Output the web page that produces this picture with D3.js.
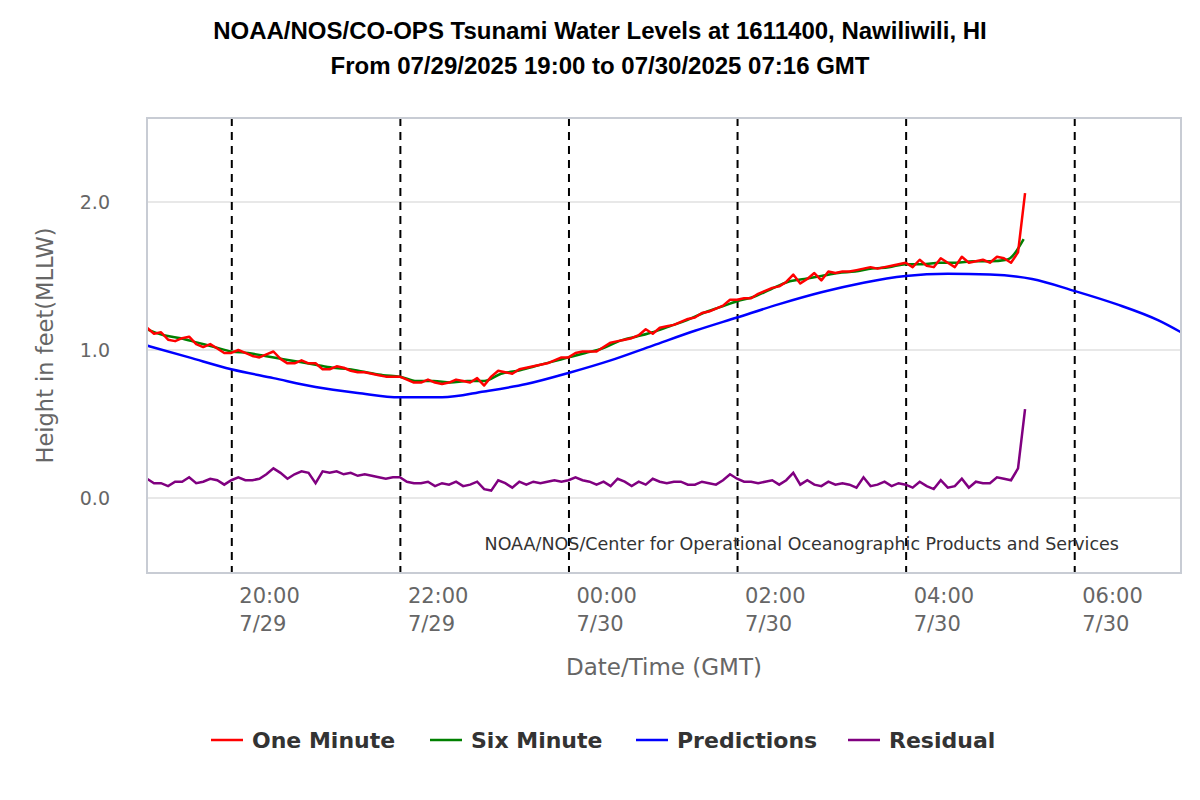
<!DOCTYPE html>
<html>
<head>
<meta charset="utf-8">
<script src="https://cdn.jsdelivr.net/npm/d3@7"></script>
<style>
  body { margin: 0; background: #fff; }
  svg { display: block; }
</style>
</head>
<body>
<script>
// ---- data ----
var titleLines = [
    "NOAA/NOS/CO-OPS Tsunami Water Levels at 1611400, Nawiliwili, HI",
    "From 07/29/2025 19:00 to 07/30/2025 07:16 GMT"
];
var startTime = Date.UTC(2025, 6, 29, 19, 0);
var endTime = Date.UTC(2025, 6, 30, 7, 16);

// one minute water level, sampled every 5 minutes from 19:00
var oneMinuteStep = 5;
var oneMinute = [
    1.15, 1.11, 1.12, 1.07, 1.06, 1.08, 1.09, 1.04, 1.02, 1.04,
    1.01, 0.98, 0.98, 1.00, 0.98, 0.96, 0.95, 0.97, 0.99, 0.94,
    0.91, 0.91, 0.93, 0.91, 0.91, 0.87, 0.87, 0.89, 0.88, 0.86,
    0.85, 0.85, 0.84, 0.83, 0.82, 0.82, 0.82, 0.80, 0.78, 0.78,
    0.80, 0.78, 0.77, 0.78, 0.80, 0.79, 0.78, 0.81, 0.76, 0.82,
    0.86, 0.85, 0.84, 0.87, 0.88, 0.89, 0.90, 0.91, 0.93, 0.95,
    0.95, 0.98, 0.99, 0.99, 0.99, 1.02, 1.05, 1.06, 1.07, 1.08,
    1.10, 1.14, 1.11, 1.15, 1.16, 1.17, 1.19, 1.21, 1.22, 1.25,
    1.26, 1.28, 1.30, 1.34, 1.34, 1.35, 1.35, 1.38, 1.40, 1.42,
    1.43, 1.46, 1.51, 1.45, 1.48, 1.52, 1.47, 1.53, 1.52, 1.53,
    1.53, 1.54, 1.55, 1.56, 1.55, 1.56, 1.57, 1.58, 1.59, 1.56,
    1.61, 1.57, 1.56, 1.62, 1.59, 1.56, 1.63, 1.59, 1.60, 1.61,
    1.59, 1.63, 1.62, 1.59, 1.66, 2.06
];

// six minute water level, sampled every 12 minutes from 19:00
var sixMinuteStep = 12;
var sixMinute = [
    1.14, 1.10, 1.08, 1.05, 1.02, 0.99, 0.98, 0.96, 0.94, 0.92,
    0.90, 0.88, 0.87, 0.85, 0.83, 0.82, 0.79, 0.79, 0.78, 0.79,
    0.79, 0.84, 0.86, 0.89, 0.92, 0.95, 0.98, 1.01, 1.06, 1.09,
    1.12, 1.16, 1.20, 1.25, 1.29, 1.33, 1.36, 1.41, 1.46, 1.48,
    1.50, 1.52, 1.53, 1.55, 1.56, 1.58, 1.58, 1.59, 1.59, 1.60,
    1.60, 1.61, 1.75
];

// predictions, minutes after 19:00
var predictionMinutes = [0, 30, 60, 90, 120, 150, 180, 210, 240, 270, 300, 330, 360,
    390, 420, 450, 480, 510, 540, 570, 600, 630, 660, 690, 720, 736];
var predictions = [1.03, 0.95, 0.87, 0.81, 0.75, 0.71, 0.68, 0.68, 0.72, 0.77, 0.845, 0.93, 1.03,
    1.13, 1.22, 1.31, 1.39, 1.455, 1.50, 1.515, 1.51, 1.48, 1.40, 1.31, 1.20, 1.12];

// residual, sampled every 5 minutes from 19:00
var residualStep = 5;
var residual = [
    0.13, 0.10, 0.10, 0.08, 0.11, 0.11, 0.14, 0.10, 0.11, 0.13,
    0.12, 0.09, 0.12, 0.14, 0.12, 0.12, 0.13, 0.16, 0.20, 0.17,
    0.13, 0.16, 0.18, 0.17, 0.10, 0.18, 0.17, 0.18, 0.16, 0.17,
    0.15, 0.16, 0.15, 0.14, 0.13, 0.14, 0.14, 0.11, 0.10, 0.10,
    0.11, 0.08, 0.10, 0.09, 0.11, 0.08, 0.09, 0.11, 0.06, 0.05,
    0.12, 0.10, 0.07, 0.11, 0.09, 0.11, 0.10, 0.11, 0.12, 0.11,
    0.12, 0.14, 0.12, 0.11, 0.09, 0.11, 0.08, 0.13, 0.11, 0.08,
    0.11, 0.09, 0.13, 0.11, 0.10, 0.11, 0.11, 0.09, 0.09, 0.11,
    0.10, 0.09, 0.12, 0.16, 0.13, 0.11, 0.11, 0.10, 0.11, 0.12,
    0.09, 0.12, 0.17, 0.09, 0.12, 0.09, 0.08, 0.11, 0.09, 0.10,
    0.09, 0.07, 0.14, 0.08, 0.09, 0.11, 0.08, 0.10, 0.09, 0.07,
    0.11, 0.08, 0.06, 0.12, 0.07, 0.08, 0.13, 0.07, 0.11, 0.10,
    0.10, 0.14, 0.13, 0.12, 0.20, 0.60
];

var yTicks = [0, 1, 2];
var seriesNames = ["One Minute", "Six Minute", "Predictions", "Residual"];
var seriesColors = ["#ff0000", "#008000", "#0000ff", "#800080"];
var creditText = "NOAA/NOS/Center for Operational Oceanographic Products and Services";

// ---- layout ----
var width = 1200, height = 800;
var plot = { left: 147, top: 118, right: 1181, bottom: 573 };

var svg = d3.select("body").append("svg")
    .attr("width", width)
    .attr("height", height)
    .style("font-family", "'DejaVu Sans', sans-serif");

var x = d3.scaleUtc()
    .domain([new Date(startTime), new Date(endTime)])
    .range([plot.left, plot.right]);

var y = d3.scaleLinear()
    .domain([-0.507, 2.568])
    .range([plot.bottom, plot.top]);

function minutes(m) { return new Date(startTime + m * 60000); }

function stepped(values, step) {
    return values.map(function (v, i) { return { t: minutes(i * step), v: v }; });
}

// title
svg.selectAll("text.title")
    .data(titleLines)
    .enter().append("text")
    .attr("class", "title")
    .attr("x", width / 2)
    .attr("y", function (d, i) { return 39 + i * 35; })
    .attr("text-anchor", "middle")
    .style("font-family", "'Liberation Sans', Arial, sans-serif")
    .style("font-weight", "bold")
    .style("font-size", "24px")
    .attr("fill", "#000")
    .text(function (d) { return d; });

// grid lines
svg.append("g")
    .selectAll("line")
    .data(yTicks)
    .enter().append("line")
    .attr("x1", plot.left)
    .attr("x2", plot.right)
    .attr("y1", function (d) { return y(d); })
    .attr("y2", function (d) { return y(d); })
    .attr("stroke", "#e0e0e0")
    .attr("stroke-width", 1.5);

// y axis labels
var yAxis = d3.axisLeft(y)
    .tickValues(yTicks)
    .tickSize(0)
    .tickPadding(37)
    .tickFormat(d3.format(".1f"));

var yG = svg.append("g")
    .attr("transform", "translate(" + plot.left + ",0)")
    .call(yAxis);
yG.select(".domain").remove();
yG.selectAll("text")
    .attr("fill", "#666")
    .style("font-size", "19px")
    .style("font-family", "'DejaVu Sans', sans-serif");

svg.append("text")
    .attr("transform", "translate(53," + ((plot.top + plot.bottom) / 2) + ") rotate(-90)")
    .attr("text-anchor", "middle")
    .attr("fill", "#666")
    .style("font-size", "22.5px")
    .text("Height in feet(MLLW)");

// x axis: dashed tick lines across plot + two line labels
var xTicks = d3.utcHour.every(2).range(new Date(startTime + 1), new Date(endTime));
var xAxis = d3.axisBottom(x)
    .tickValues(xTicks)
    .tickSize(plot.bottom - plot.top)
    .tickFormat("");

var xG = svg.append("g")
    .attr("transform", "translate(0," + plot.top + ")")
    .call(xAxis);
xG.select(".domain").remove();
xG.selectAll(".tick line")
    .attr("stroke", "#000")
    .attr("stroke-width", 2)
    .attr("stroke-dasharray", "8,6");

var fmtTime = d3.utcFormat("%H:%M");
var labels = svg.append("g").selectAll("text")
    .data(xTicks)
    .enter().append("text")
    .attr("x", function (d) { return x(d) + 8; })
    .attr("y", 603)
    .attr("fill", "#666")
    .style("font-size", "21px");
labels.append("tspan")
    .text(function (d) { return fmtTime(d); });
labels.append("tspan")
    .attr("x", function (d) { return x(d) + 8; })
    .attr("dy", 28)
    .text(function (d) { return (d.getUTCMonth() + 1) + "/" + d.getUTCDate(); });

svg.append("text")
    .attr("x", (plot.left + plot.right) / 2)
    .attr("y", 675)
    .attr("text-anchor", "middle")
    .attr("fill", "#666")
    .style("font-size", "23px")
    .text("Date/Time (GMT)");

// series
var line = d3.line()
    .x(function (d) { return x(d.t); })
    .y(function (d) { return y(d.v); });

var smooth = d3.line()
    .curve(d3.curveMonotoneX)
    .x(function (d) { return x(d.t); })
    .y(function (d) { return y(d.v); });

var predData = predictionMinutes.map(function (m, i) { return { t: minutes(m), v: predictions[i] }; });

var lines = svg.append("g");
lines.append("path")
    .datum(stepped(residual, residualStep))
    .attr("d", line)
    .attr("fill", "none")
    .attr("stroke", seriesColors[3])
    .attr("stroke-width", 2.5);
lines.append("path")
    .datum(predData)
    .attr("d", smooth)
    .attr("fill", "none")
    .attr("stroke", seriesColors[2])
    .attr("stroke-width", 2.5);
lines.append("path")
    .datum(stepped(sixMinute, sixMinuteStep))
    .attr("d", smooth)
    .attr("fill", "none")
    .attr("stroke", seriesColors[1])
    .attr("stroke-width", 2.5);
lines.append("path")
    .datum(stepped(oneMinute, oneMinuteStep))
    .attr("d", line)
    .attr("fill", "none")
    .attr("stroke", seriesColors[0])
    .attr("stroke-width", 2.5)
    .attr("stroke-linejoin", "round");

// plot frame
svg.append("rect")
    .attr("x", plot.left)
    .attr("y", plot.top)
    .attr("width", plot.right - plot.left)
    .attr("height", plot.bottom - plot.top)
    .attr("fill", "none")
    .attr("stroke", "#c8ccd4")
    .attr("stroke-width", 2);

// credits
svg.append("text")
    .attr("x", 1119)
    .attr("y", 550)
    .attr("text-anchor", "end")
    .attr("fill", "#333")
    .style("font-size", "17.5px")
    .text(creditText);

// legend
var legendX = [211, 430, 636, 848];
var legend = svg.append("g").selectAll("g")
    .data(seriesNames)
    .enter().append("g")
    .attr("transform", function (d, i) { return "translate(" + legendX[i] + ",740)"; });
legend.append("line")
    .attr("x1", 0).attr("x2", 32)
    .attr("stroke", function (d, i) { return seriesColors[i]; })
    .attr("stroke-width", 2.5);
legend.append("text")
    .attr("x", 41)
    .attr("y", 8)
    .attr("fill", "#333")
    .style("font-size", "22px")
    .style("font-weight", "bold")
    .text(function (d) { return d; });
</script>
</body>
</html>
